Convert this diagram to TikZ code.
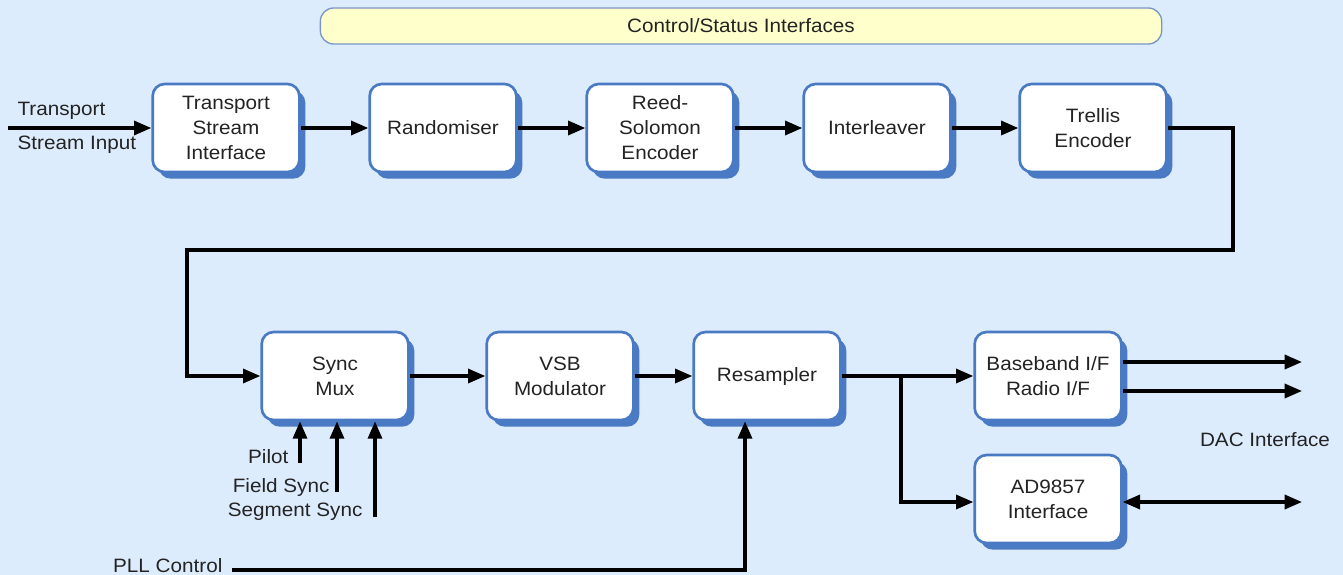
\documentclass[tikz,border=0pt]{standalone}
\usepackage{fontspec}
\setmainfont{Liberation Sans}[FakeStretch=1.07]
\usetikzlibrary{arrows.meta,shadows}
\definecolor{bgblue}{RGB}{221,236,252}
\definecolor{boxblue}{RGB}{74,122,196}
\definecolor{barfill}{RGB}{255,255,204}
\definecolor{barline}{RGB}{120,150,200}
\definecolor{txtgray}{RGB}{35,35,35}
\tikzset{
  >={Triangle[length=13pt,width=10.5pt]},
  block/.style={draw=boxblue, line width=2pt, fill=white, rounded corners=9pt,
    minimum width=110pt, minimum height=66pt, align=center, text=txtgray,
    font=\fontsize{14.5}{18.75}\selectfont,
    drop shadow={shadow xshift=4.5pt, shadow yshift=-5pt, fill=boxblue, opacity=1}},
  ctrlbar/.style={draw=barline, line width=1pt, fill=barfill, rounded corners=10pt,
    minimum width=631pt, minimum height=27pt, text=txtgray,
    font=\fontsize{14.5}{18.75}\selectfont},
  lbl/.style={text=txtgray, font=\fontsize{14.5}{18.75}\selectfont, inner sep=1pt},
  sig/.style={line width=2.5pt},
}
\begin{document}
\begin{tikzpicture}[x=0.75pt,y=-0.75pt]
            \useasboundingbox[fill=bgblue] (0,0) rectangle (1343,575);

            \node[ctrlbar] (ctl) at (741,26) {Control/Status Interfaces};

            \node[block] (tsi) at (226,128) {Transport\\Stream\\Interface};
            \node[block] (rnd) at (443,128) {Randomiser};
            \node[block] (rs) at (660,128) {Reed-\\Solomon\\Encoder};
            \node[block] (il) at (877,128) {Interleaver};
            \node[block] (te) at (1093,128) {Trellis\\Encoder};

            \node[block] (sm) at (335,376) {Sync\\Mux};
            \node[block] (vsb) at (560,376) {VSB\\Modulator};
            \node[block] (rsm) at (767,376) {Resampler};
            \node[block] (bb) at (1048,376) {Baseband I/F\\Radio I/F};
            \node[block] (ad) at (1048,499) {AD9857\\Interface};

            \node[lbl, anchor=west] (tin1) at (16,111) {Transport};
            \node[lbl, anchor=west] (tin2) at (16,145) {Stream Input};
            \node[lbl, anchor=east] (lpil) at (290,457) {Pilot};
            \node[lbl, anchor=east] (lfs) at (331,487) {Field Sync};
            \node[lbl, anchor=east] (lss) at (364,512) {Segment Sync};
            \node[lbl, anchor=east] (pll) at (224,566) {PLL Control};
            \node[lbl] (dac) at (1265,440) {DAC Interface};

            \coordinate (tin) at (8,128);
            \coordinate (c1) at (1233,250);
            \coordinate (c2) at (187,250);
            \coordinate (br) at (901,376);
            \coordinate (o1) at (1302,362);
            \coordinate (o2) at (1302,391);
            \coordinate (o3) at (1302,502);
            \coordinate (p1) at (300,463);
            \coordinate (p2) at (337,492);
            \coordinate (p3) at (375,517);
            \coordinate (ps) at (232,570);
            \coordinate (pc) at (745,570);

            \draw[->, sig] (tin) to (tsi);
            \draw[->, sig] (tsi) to (rnd);
            \draw[->, sig] (rnd) to (rs);
            \draw[->, sig] (rs) to (il);
            \draw[->, sig] (il) to (te);
            \draw[->, sig] (te.east) -| (c1) -- (c2) |- (sm.west);
            \draw[->, sig] (sm) to (vsb);
            \draw[->, sig] (vsb) to (rsm);
            \draw[->, sig] (rsm) to (bb);
            \draw[->, sig] (br) |- (ad.west |- o3);
            \draw[->, sig] (bb.east |- o1) to (o1);
            \draw[->, sig] (bb.east |- o2) to (o2);
            \draw[<->, sig] (ad.east |- o3) to (o3);
            \draw[->, sig] (p1) to (p1 |- sm.south);
            \draw[->, sig] (p2) to (p2 |- sm.south);
            \draw[->, sig] (p3) to (p3 |- sm.south);
            \draw[->, sig] (ps) -- (pc) to (pc |- rsm.south);
        \end{tikzpicture}
\end{document}
